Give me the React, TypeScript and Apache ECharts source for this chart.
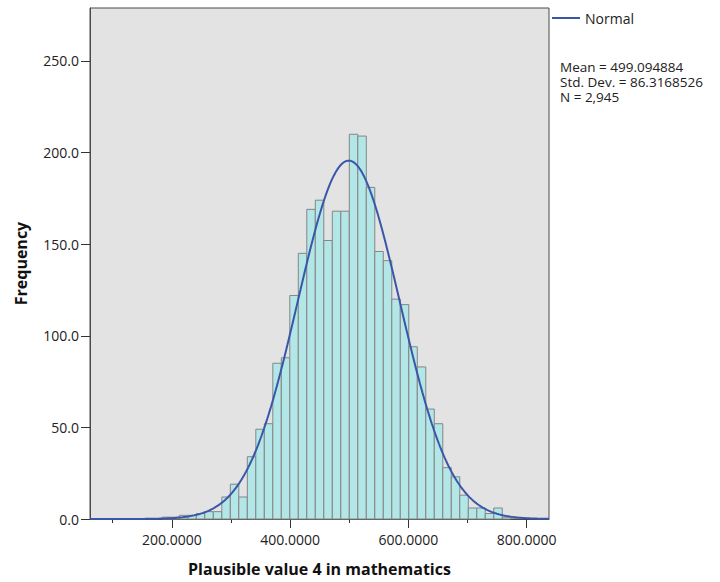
import React, { useEffect, useRef } from "react";
import * as echarts from "echarts";

// Histogram of the fourth plausible value in mathematics, with fitted normal curve
const binStart = 183.9;
const binWidth = 14.37;
const counts = [
  1, 1, 2, 2, 3, 4, 4, 12, 19, 12, 34, 49, 52, 85, 88, 122, 145, 169, 174, 152,
  168, 168, 210, 209, 181, 146, 141, 120, 117, 94, 83, 60, 52, 28, 23, 13, 6, 6,
  3, 6, 1,
];
const mean = 499.094884;
const stdDev = 86.3168526;
const n = 2945;

const xMin = 61.6;
const xMax = 837.7;
const yMax = 278.9;
const xLabelTicks = [200, 400, 600, 800];
const xMinorTicks = [100, 300, 500, 700];
const yTicks = [0, 50, 100, 150, 200, 250];

const FONT = "'Open Sans', sans-serif";

const bars = counts.map((c, i) => [binStart + i * binWidth, binStart + (i + 1) * binWidth, c]);

// expected frequency per bin under the normal distribution stated in the legend
const normalCurve: number[][] = [];
for (let x = xMin; x <= xMax; x += 2) {
  const z = (x - mean) / stdDev;
  normalCurve.push([x, ((n * binWidth) / (stdDev * Math.sqrt(2 * Math.PI))) * Math.exp(-0.5 * z * z)]);
}

const statsLines = [`Mean = ${mean}`, `Std. Dev. = ${stdDev}`, `N = ${n.toLocaleString("en-US")}`];

export default function App() {
  const ref = useRef<HTMLDivElement>(null);
  useEffect(() => {
    if (!ref.current) return;
    const chart = echarts.init(ref.current, null, { renderer: "svg" });
    chart.setOption({
      animation: false,
      backgroundColor: "#ffffff",
      textStyle: { fontFamily: FONT },
      grid: {
        left: 90,
        top: 8,
        width: 459,
        height: 511,
        show: true,
        backgroundColor: "#e3e3e3",
        borderColor: "#4a4a4a",
        borderWidth: 1,
      },
      xAxis: [
        {
          type: "value",
          min: xMin,
          max: xMax,
          splitLine: { show: false },
          axisLine: { show: true, lineStyle: { color: "#4a4a4a", width: 1 } },
          axisTick: { show: true, length: 9, customValues: xLabelTicks, lineStyle: { color: "#333" } },
          axisLabel: {
            customValues: xLabelTicks,
            formatter: (v: number) => v.toFixed(4),
            color: "#222",
            fontSize: 14,
            margin: 13,
            fontFamily: FONT,
          },
          name: "Plausible value 4 in mathematics",
          nameLocation: "middle",
          nameGap: 42,
          nameTextStyle: { fontSize: 16, fontWeight: "bold", color: "#111", fontFamily: FONT },
        },
        {
          type: "value",
          min: xMin,
          max: xMax,
          position: "bottom",
          splitLine: { show: false },
          axisLine: { show: false },
          axisTick: { show: true, length: 4, customValues: xMinorTicks, lineStyle: { color: "#333" } },
          axisLabel: { show: false },
        },
      ],
      yAxis: {
        type: "value",
        min: 0,
        max: yMax,
        splitLine: { show: false },
        axisLine: { show: true, lineStyle: { color: "#4a4a4a", width: 1 } },
        axisTick: { show: true, length: 9, customValues: yTicks, lineStyle: { color: "#333" } },
        axisLabel: {
          customValues: yTicks,
          formatter: (v: number) => v.toFixed(1),
          color: "#222",
          fontSize: 14,
          margin: 11,
          fontFamily: FONT,
        },
        name: "Frequency",
        nameLocation: "middle",
        nameGap: 61,
        nameTextStyle: { fontSize: 16, fontWeight: "bold", color: "#111", fontFamily: FONT },
      },
      series: [
        {
          type: "custom",
          data: bars,
          renderItem: (_params: any, api: any) => {
            const p0 = api.coord([api.value(0), api.value(2)]);
            const p1 = api.coord([api.value(1), 0]);
            return {
              type: "rect",
              shape: { x: p0[0], y: p0[1], width: p1[0] - p0[0], height: p1[1] - p0[1] },
              style: { fill: "#b3e6e6", stroke: "#858585", lineWidth: 1 },
            };
          },
        },
        {
          type: "line",
          data: normalCurve,
          showSymbol: false,
          smooth: false,
          lineStyle: { color: "#3a56a8", width: 2 },
          z: 5,
        },
      ],
      graphic: [
        { type: "line", shape: { x1: 552, y1: 18, x2: 580, y2: 18 }, style: { stroke: "#3a56a8", lineWidth: 2 } },
        { type: "text", x: 585, y: 18, style: { text: "Normal", fill: "#222", font: `14px ${FONT}`, textVerticalAlign: "middle" } },
        ...statsLines.map((t, i) => ({
          type: "text",
          x: 560,
          y: 67 + i * 15,
          style: { text: t, fill: "#222", font: `13.5px ${FONT}`, textVerticalAlign: "middle" },
        })),
      ],
    });
    return () => chart.dispose();
  }, []);
  return <div ref={ref} style={{ position: "fixed", left: 0, top: 0, width: 720, height: 582 }} />;
}
